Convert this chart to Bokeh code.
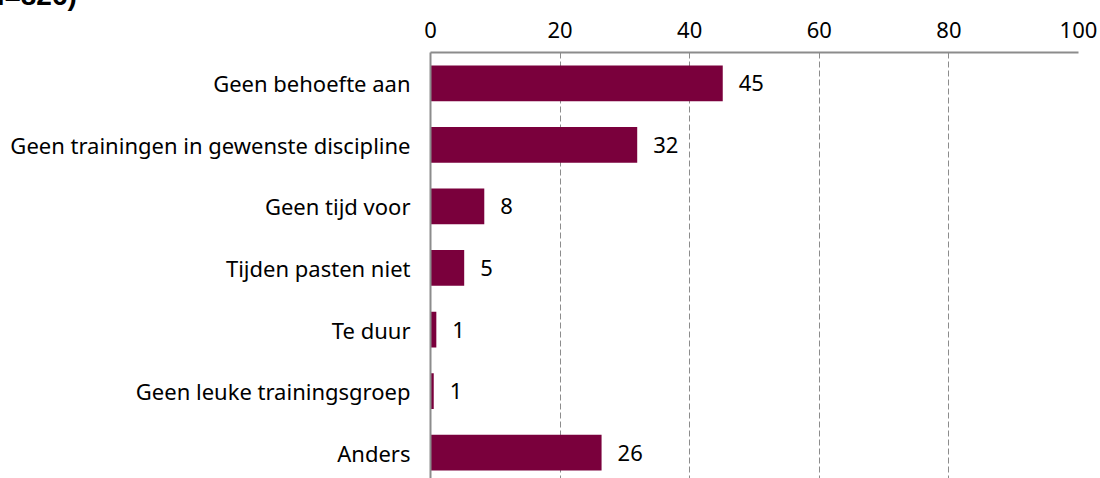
from bokeh.plotting import figure
from bokeh.models import Range1d, FixedTicker, ColumnDataSource, Div
from bokeh.layouts import column
from bokeh.core.properties import value
from bokeh.embed import file_html
from bokeh.resources import INLINE

title_text = "(n=826)"
categories = ["Geen behoefte aan", "Geen trainingen in gewenste discipline", "Geen tijd voor",
              "Tijden pasten niet", "Te duur", "Geen leuke trainingsgroep", "Anders"]
values = [45.1, 31.9, 8.3, 5.2, 0.9, 0.5, 26.4]
value_labels = ["45", "32", "8", "5", "1", "1", "26"]
x_ticks = [0, 20, 40, 60, 80, 100]

FONT = "Noto Sans"
FS = "22px"
BAR = "#7A003C"
GRAY = "#8C8C8C"

idx = list(range(len(categories)))
src = ColumnDataSource(dict(y=idx, v=values, lab=value_labels))

title_div = Div(
    text=('<div style="position:relative; top:-18px; left:-22px; white-space:nowrap; '
          'font-family:\'Liberation Sans\'; font-weight:bold; font-size:28px; '
          'line-height:28px; color:black;">' + title_text + '</div>'),
    width=1100, height=12, margin=0)

p = figure(width=1100, height=466, output_backend="svg", toolbar_location=None,
           x_range=Range1d(0, 100), y_range=Range1d(6.42, -0.5),
           x_axis_location="above", min_border_left=430, min_border_right=22,
           min_border_top=40, min_border_bottom=0, margin=0)
p.outline_line_color = None
p.background_fill_color = "white"

p.hbar(y="y", right="v", left=0, height=0.58, source=src, color=BAR, line_color=None)
p.text(x="v", y="y", text="lab", source=src, x_offset=16, text_baseline="middle",
       text_align="left", text_font=value(FONT), text_font_size=FS, text_color="black")

xa = p.xaxis[0]
xa.ticker = FixedTicker(ticks=x_ticks)
xa.axis_line_color = GRAY
xa.axis_line_width = 2
xa.major_tick_in = 0
xa.major_tick_out = 0
xa.minor_tick_line_color = None
xa.major_label_text_font = FONT
xa.major_label_text_font_size = FS
xa.major_label_text_color = "black"
xa.major_label_standoff = 15

ya = p.yaxis[0]
ya.ticker = FixedTicker(ticks=idx)
ya.major_label_overrides = {i: c for i, c in enumerate(categories)}
ya.axis_line_color = GRAY
ya.axis_line_width = 2
ya.major_tick_in = 0
ya.major_tick_out = 0
ya.minor_tick_line_color = None
ya.major_label_text_font = FONT
ya.major_label_text_font_size = FS
ya.major_label_text_color = "black"
ya.major_label_standoff = 20

p.xgrid.ticker = FixedTicker(ticks=x_ticks[1:])
p.xgrid.grid_line_color = GRAY
p.xgrid.grid_line_dash = "6 3"
p.xgrid.grid_line_width = 1
p.ygrid.grid_line_color = None

layout = column(title_div, p, spacing=0, margin=0)

open("out.html", "w").write(file_html(layout, INLINE))
